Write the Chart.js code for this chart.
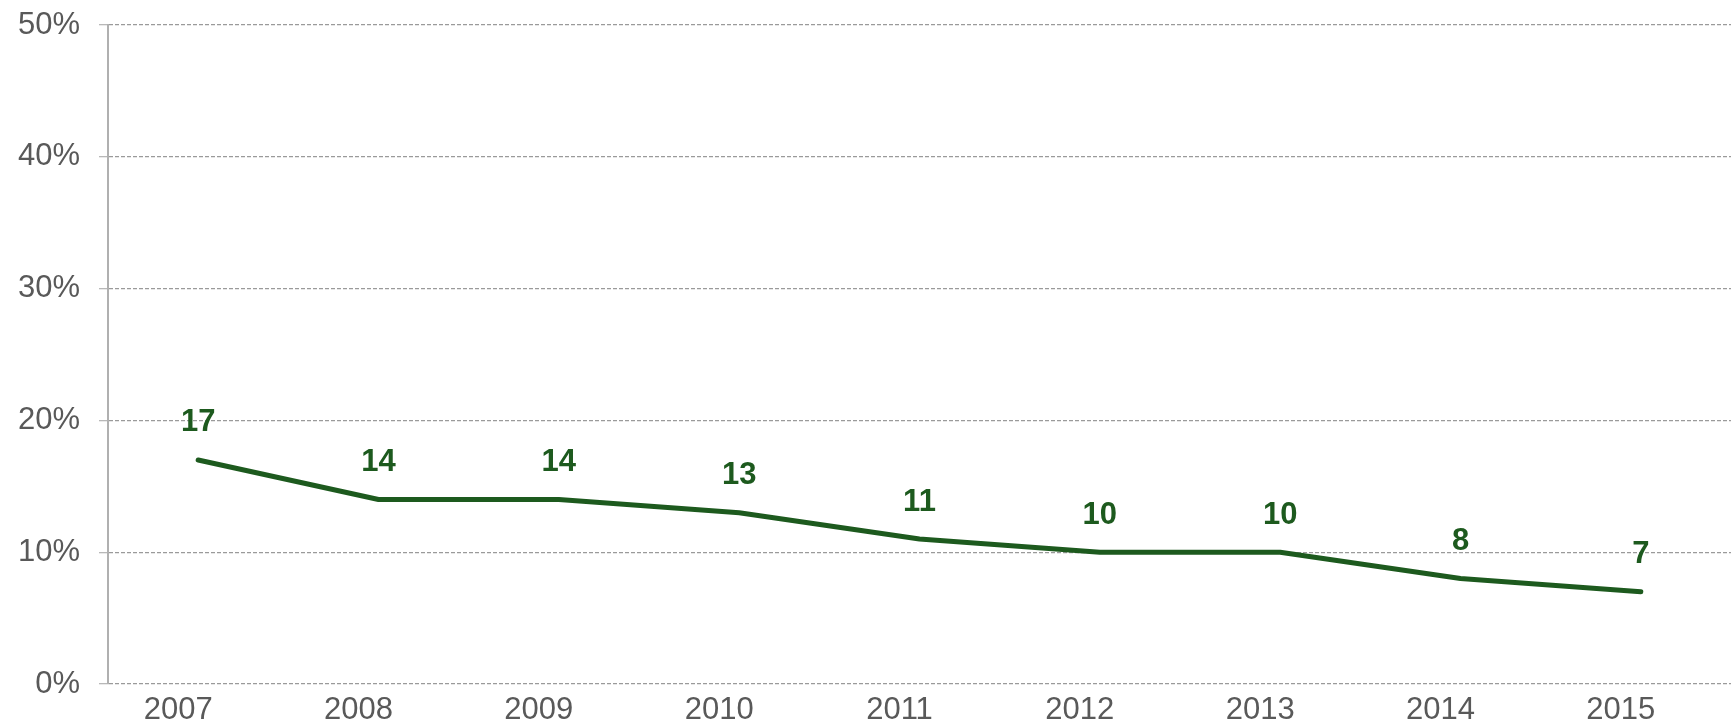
<!DOCTYPE html>
<html>
<head>
<meta charset="utf-8">
<script src="https://cdn.jsdelivr.net/npm/chart.js@4/dist/chart.umd.min.js"></script>
<style>
  html, body { margin: 0; padding: 0; background: #fff; }
  #wrap { width: 1731px; height: 725px; }
</style>
</head>
<body>
<div id="wrap"><canvas id="lineChart" width="1731" height="725"></canvas></div>
<script>
// data
const years = ["2007", "2008", "2009", "2010", "2011", "2012", "2013", "2014", "2015"];
const shares = [17, 14, 14, 13, 11, 10, 10, 8, 7];
const yTicks = [0, 10, 20, 30, 40, 50];

const green = "#1d5a1e";
const gray = "#595959";

// draw the value above each point
const valueLabels = {
  id: "valueLabels",
  afterDatasetsDraw(chart) {
    const ctx = chart.ctx;
    const meta = chart.getDatasetMeta(0);
    ctx.save();
    ctx.font = "bold 31px 'Liberation Sans', Arial, sans-serif";
    ctx.fillStyle = green;
    ctx.textAlign = "center";
    ctx.textBaseline = "middle";
    meta.data.forEach((pt, i) => {
      ctx.fillText(String(shares[i]), pt.x, pt.y - 37);
    });
    ctx.restore();
  }
};

new Chart(document.getElementById("lineChart"), {
  type: "line",
  data: {
    labels: years,
    datasets: [{
      data: shares,
      borderColor: green,
      borderWidth: 5,
      borderCapStyle: "round",
      borderJoinStyle: "round",
      pointRadius: 0,
      tension: 0,
      fill: false
    }]
  },
  options: {
    responsive: false,
    animation: false,
    layout: { padding: { top: 25, right: 0, left: 0, bottom: 0 } },
    plugins: { legend: { display: false }, tooltip: { enabled: false } },
    scales: {
      x: {
        offset: true,
        grid: { display: false, drawTicks: false },
        border: { display: false },
        ticks: {
          color: gray,
          padding: 8,
          labelOffset: -20,
          font: { family: "'Liberation Sans', Arial, sans-serif", size: 31 },
          maxRotation: 0
        },
        afterFit(scale) {
          scale.height = 41;
          scale.paddingLeft = 0;
          scale.paddingRight = 0;
        }
      },
      y: {
        min: 0,
        max: 50,
        afterBuildTicks(scale) { scale.ticks = yTicks.map(v => ({ value: v })); },
        grid: {
          color: "#9a9a9a",
          lineWidth: 1.3,
          tickLength: 9,
          tickColor: "#b8b8b8",
          tickBorderDash: []
        },
        border: { display: true, color: "#b0b0b0", width: 2, dash: [4, 2] },
        ticks: {
          color: gray,
          padding: 19,
          font: { family: "'Liberation Sans', Arial, sans-serif", size: 31 },
          callback: (v) => v + "%"
        },
        afterFit(scale) {
          scale.width = 108;
          scale.paddingTop = 0;
          scale.paddingBottom = 0;
        }
      }
    }
  },
  plugins: [valueLabels]
});
</script>
</body>
</html>
